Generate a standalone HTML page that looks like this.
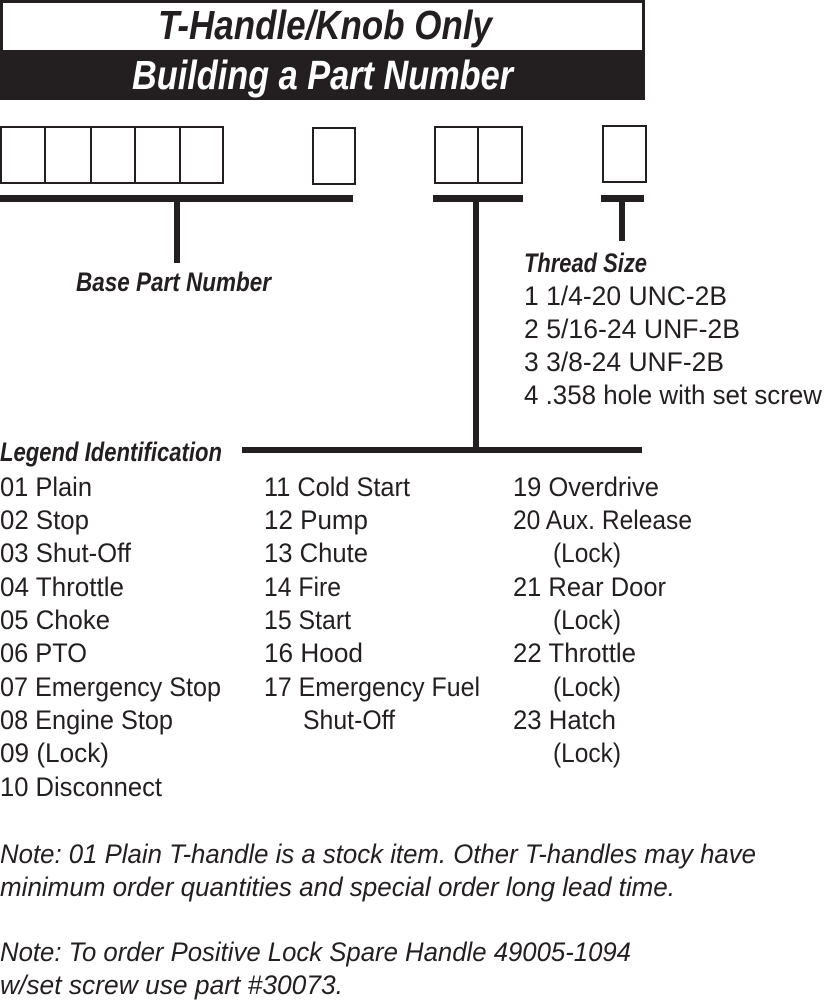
<!DOCTYPE html>
<html><head><meta charset="utf-8"><style>
html,body{margin:0;padding:0;background:#fff;}
svg{display:block;}
text{font-family:"Liberation Sans",sans-serif;fill:#231f20;}
.b{font-weight:bold;font-style:italic;}
.n{font-size:27px;}
.i{font-style:italic;font-size:27px;}
</style></head><body>
<svg width="825" height="1002" viewBox="0 0 825 1002" xmlns="http://www.w3.org/2000/svg">
<g stroke="#231f20" fill="none">
<rect x="1.5" y="1.5" width="642" height="50" stroke-width="3"/>
</g>
<rect x="0" y="50" width="645" height="50" fill="#231f20"/>
<text class="b" x="158" y="39" font-size="41" textLength="334" lengthAdjust="spacingAndGlyphs">T-Handle/Knob Only</text>
<text class="b" x="132" y="89" font-size="41" textLength="381" lengthAdjust="spacingAndGlyphs" style="fill:#fff">Building a Part Number</text>
<g stroke="#231f20" stroke-width="2" fill="none">
<rect x="1" y="127" width="222" height="56"/>
<line x1="45" y1="127" x2="45" y2="183"/><line x1="91" y1="127" x2="91" y2="183"/><line x1="135" y1="127" x2="135" y2="183"/><line x1="180" y1="127" x2="180" y2="183"/>
<rect x="313" y="128" width="42" height="56"/>
<rect x="435" y="127" width="87" height="56"/><line x1="478" y1="127" x2="478" y2="183"/>
<rect x="603" y="126" width="43" height="56"/>
</g>
<g fill="#231f20">
<rect x="0" y="195" width="353" height="7"/><rect x="174" y="195" width="6" height="68"/>
<rect x="433" y="195" width="90" height="7"/><rect x="473" y="195" width="6" height="253"/>
<rect x="601" y="195" width="43" height="7"/><rect x="619" y="195" width="6" height="46"/>
<rect x="242" y="447" width="400" height="6"/>
</g>
<text class="b" x="76" y="291" font-size="27" textLength="195" lengthAdjust="spacingAndGlyphs">Base Part Number</text>
<text class="b" x="524" y="272" font-size="27" textLength="123" lengthAdjust="spacingAndGlyphs">Thread Size</text>
<text class="n" x="524" y="305" textLength="203" lengthAdjust="spacingAndGlyphs">1 1/4-20 UNC-2B</text>
<text class="n" x="524" y="338" textLength="216" lengthAdjust="spacingAndGlyphs">2 5/16-24 UNF-2B</text>
<text class="n" x="524" y="371" textLength="200" lengthAdjust="spacingAndGlyphs">3 3/8-24 UNF-2B</text>
<text class="n" x="524" y="404" textLength="298" lengthAdjust="spacingAndGlyphs">4 .358 hole with set screw</text>
<text class="b" x="0" y="461" font-size="27" textLength="222" lengthAdjust="spacingAndGlyphs">Legend Identification</text>
<text class="n" x="0" y="496" textLength="92" lengthAdjust="spacingAndGlyphs">01 Plain</text>
<text class="n" x="0" y="529" textLength="89" lengthAdjust="spacingAndGlyphs">02 Stop</text>
<text class="n" x="0" y="562" textLength="131" lengthAdjust="spacingAndGlyphs">03 Shut-Off</text>
<text class="n" x="0" y="596" textLength="124" lengthAdjust="spacingAndGlyphs">04 Throttle</text>
<text class="n" x="0" y="629" textLength="110" lengthAdjust="spacingAndGlyphs">05 Choke</text>
<text class="n" x="0" y="662" textLength="87" lengthAdjust="spacingAndGlyphs">06 PTO</text>
<text class="n" x="0" y="696" textLength="221" lengthAdjust="spacingAndGlyphs">07 Emergency Stop</text>
<text class="n" x="0" y="729" textLength="173" lengthAdjust="spacingAndGlyphs">08 Engine Stop</text>
<text class="n" x="0" y="762" textLength="109" lengthAdjust="spacingAndGlyphs">09 (Lock)</text>
<text class="n" x="0" y="796" textLength="162" lengthAdjust="spacingAndGlyphs">10 Disconnect</text>
<text class="n" x="264" y="496" textLength="146" lengthAdjust="spacingAndGlyphs">11 Cold Start</text>
<text class="n" x="264" y="529" textLength="104" lengthAdjust="spacingAndGlyphs">12 Pump</text>
<text class="n" x="264" y="562" textLength="104" lengthAdjust="spacingAndGlyphs">13 Chute</text>
<text class="n" x="264" y="596" textLength="77" lengthAdjust="spacingAndGlyphs">14 Fire</text>
<text class="n" x="264" y="629" textLength="87" lengthAdjust="spacingAndGlyphs">15 Start</text>
<text class="n" x="264" y="662" textLength="99" lengthAdjust="spacingAndGlyphs">16 Hood</text>
<text class="n" x="264" y="696" textLength="216" lengthAdjust="spacingAndGlyphs">17 Emergency Fuel</text>
<text class="n" x="303" y="729" textLength="92" lengthAdjust="spacingAndGlyphs">Shut-Off</text>
<text class="n" x="513" y="496" textLength="146" lengthAdjust="spacingAndGlyphs">19 Overdrive</text>
<text class="n" x="513" y="529" textLength="179" lengthAdjust="spacingAndGlyphs">20 Aux. Release</text>
<text class="n" x="553" y="562" textLength="68" lengthAdjust="spacingAndGlyphs">(Lock)</text>
<text class="n" x="513" y="596" textLength="153" lengthAdjust="spacingAndGlyphs">21 Rear Door</text>
<text class="n" x="553" y="629" textLength="68" lengthAdjust="spacingAndGlyphs">(Lock)</text>
<text class="n" x="513" y="662" textLength="123" lengthAdjust="spacingAndGlyphs">22 Throttle</text>
<text class="n" x="553" y="696" textLength="68" lengthAdjust="spacingAndGlyphs">(Lock)</text>
<text class="n" x="513" y="729" textLength="103" lengthAdjust="spacingAndGlyphs">23 Hatch</text>
<text class="n" x="553" y="762" textLength="68" lengthAdjust="spacingAndGlyphs">(Lock)</text>
<text class="i" x="0" y="863" textLength="756" lengthAdjust="spacingAndGlyphs">Note: 01 Plain T-handle is a stock item. Other T-handles may have</text>
<text class="i" x="0" y="896" textLength="675" lengthAdjust="spacingAndGlyphs">minimum order quantities and special order long lead time.</text>
<text class="i" x="0" y="961" textLength="631" lengthAdjust="spacingAndGlyphs">Note: To order Positive Lock Spare Handle 49005-1094</text>
<text class="i" x="0" y="994" textLength="343" lengthAdjust="spacingAndGlyphs">w/set screw use part #30073.</text>
</svg>
</body></html>
